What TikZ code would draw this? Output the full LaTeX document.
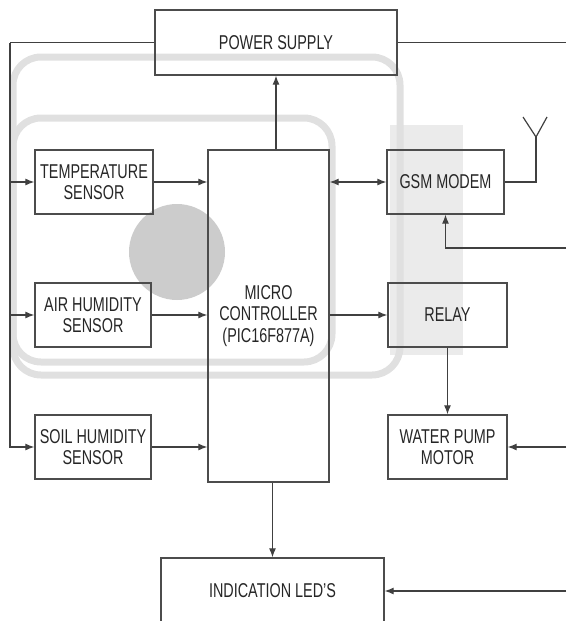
\documentclass[tikz,border=0pt]{standalone}
\usepackage{fontspec}
\setmainfont{Liberation Sans}[FakeStretch=0.72]
\usetikzlibrary{arrows.meta,positioning}

\begin{document}
\begin{tikzpicture}[x=1pt,y=-1pt,>=Latex,
  blk/.style={draw=black!70,line width=1.3pt,align=center,inner sep=0pt,text=black!85,font=\fontsize{20}{21.5}\selectfont},
  wire/.style={draw=black!75,line width=1.2pt},
  arr/.style={wire,-{Latex[length=9pt,width=7pt]}},
  wmark/.style={draw=black!12,line width=7pt,rounded corners=28pt}]
\useasboundingbox (0,0) rectangle (566,621);
\clip (0,0) rectangle (566,621);
% faint watermark behind the diagram
\fill[black!8] (390,125) rectangle (463,355);
\draw[wmark] (13,57) rectangle (400,375);
\draw[wmark] (13,118) rectangle (332,362);
\fill[black!20] (177,252) circle (48);
% blocks
\node[blk,minimum width=242pt,minimum height=65pt] (power) at (276,42.5) {POWER SUPPLY};
\node[blk,minimum width=118pt,minimum height=64pt] (temp) at (94,182) {TEMPERATURE\\SENSOR};
\node[blk,minimum width=116pt,minimum height=64pt] (air) at (93,315) {AIR HUMIDITY\\SENSOR};
\node[blk,minimum width=116pt,minimum height=64pt] (soil) at (93,447) {SOIL HUMIDITY\\SENSOR};
\node[blk,minimum width=121pt,minimum height=332pt] (mcu) at (268.5,316) {MICRO\\CONTROLLER\\(PIC16F877A)};
\node[blk,minimum width=117pt,minimum height=64pt] (gsm) at (445.5,182) {GSM MODEM};
\node[blk,minimum width=119pt,minimum height=64pt] (relay) at (447.5,315) {RELAY};
\node[blk,minimum width=119pt,minimum height=64pt] (pump) at (447.5,447) {WATER PUMP\\MOTOR};
\node[blk,minimum width=223pt,minimum height=66pt] (led) at (272.5,591) {INDICATION LED'S};
% free ends of the wires
\coordinate (bust) at (10,42.5);
\coordinate (busb) at (10,447);
\coordinate (pwrout) at (566,42.5);
\coordinate (ant) at (536,137);
\coordinate (gsmin) at (566,248);
\coordinate (pumpin) at (566,447);
\coordinate (ledin) at (566,591);
% power distribution
\draw[wire] (power.west) -- (bust);
\draw[arr] (bust) -- (busb) -- (soil.west);
\draw[arr] (bust |- temp.west) -- (temp.west);
\draw[arr] (bust |- air.west) -- (air.west);
\draw[wire] (power.east) -- (pwrout);
% sensors to controller
\draw[arr] (temp.east) -- (mcu.west |- temp.east);
\draw[arr] (air.east) -- (mcu.west |- air.east);
\draw[arr] (soil.east) -- (mcu.west |- soil.east);
\draw[arr] (mcu.north -| power.south) -- (power.south);
% outputs
\draw[wire,{Latex[length=9pt,width=7pt]}-{Latex[length=9pt,width=7pt]}] (mcu.east |- gsm.west) -- (gsm.west);
\draw[wire] (gsm.east) -| (ant);
\draw[wire] (ant) ++(-13,-20) -- (ant) -- ++(11,-20);
\draw[arr] (gsmin) -| (gsm.south);
\draw[arr] (mcu.east |- relay.west) -- (relay.west);
\draw[arr] (relay.south) -- (pump.north);
\draw[arr] (pumpin) -- (pump.east);
\draw[arr] (mcu.south -| led.north) -- (led.north);
\draw[arr] (ledin) -- (led.east);
\end{tikzpicture}
\end{document}
